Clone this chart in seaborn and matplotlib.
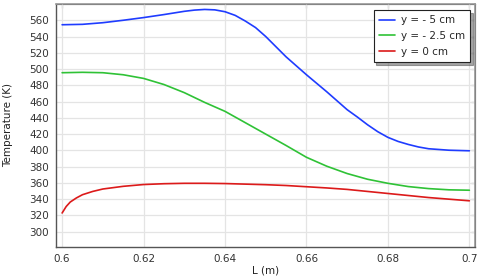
import numpy as np
import pandas as pd
import matplotlib
matplotlib.use("Agg")
import matplotlib.pyplot as plt
from matplotlib.ticker import FuncFormatter
import seaborn as sns

# Values
L_blue = [0.6, 0.605, 0.61, 0.615, 0.62, 0.625, 0.63, 0.6325, 0.635, 0.6375, 0.64,
          0.6425, 0.645, 0.6475, 0.65, 0.655, 0.66, 0.665, 0.67, 0.6725, 0.675,
          0.6775, 0.68, 0.6825, 0.685, 0.6875, 0.69, 0.695, 0.7]
T_blue = [554.5, 555, 557, 560, 563.3, 567, 571, 572.5, 573.3, 572.8, 570.5,
          566, 559, 551, 540, 515, 493, 472, 450, 441, 431.5,
          423, 416, 411, 407.3, 404.2, 402, 400.2, 399.5]

L_green = [0.6, 0.605, 0.61, 0.615, 0.62, 0.625, 0.63, 0.635, 0.64, 0.645, 0.65,
           0.655, 0.66, 0.665, 0.67, 0.675, 0.68, 0.685, 0.69, 0.695, 0.7]
T_green = [495.5, 496, 495.5, 493, 488.5, 481, 471, 459, 448, 434, 420,
           406, 391.5, 380.5, 371.5, 364.5, 359.5, 355.5, 353, 351.5, 351]

L_red = [0.6, 0.601, 0.602, 0.6035, 0.605, 0.6075, 0.61, 0.615, 0.62, 0.625, 0.63,
         0.635, 0.64, 0.645, 0.65, 0.655, 0.66, 0.665, 0.67, 0.675, 0.68, 0.685,
         0.69, 0.695, 0.7]
T_red = [323, 331, 336.5, 341.5, 345.5, 349.5, 352.5, 355.8, 358, 359, 359.5,
         359.5, 359.2, 358.5, 357.8, 356.8, 355.3, 353.8, 352, 349.5, 347, 344.5,
         342, 340, 338]

labels = ["y = - 5 cm", "y = - 2.5 cm", "y = 0 cm"]
colors = ["#1f3cff", "#2fc236", "#dc1a1a"]
x_ticks = [0.6, 0.62, 0.64, 0.66, 0.68, 0.7]
y_ticks = list(range(300, 561, 20))

df = pd.concat([
    pd.DataFrame({"L": L_blue, "T": T_blue, "series": labels[0]}),
    pd.DataFrame({"L": L_green, "T": T_green, "series": labels[1]}),
    pd.DataFrame({"L": L_red, "T": T_red, "series": labels[2]}),
])

sns.set_style("white")
plt.rcParams["font.family"] = ["DejaVu Sans"]

fig = plt.figure(figsize=(4.8, 2.76), dpi=100)
ax = fig.add_axes([0.1167, 0.106, 0.873, 0.8795])

sns.lineplot(data=df, x="L", y="T", hue="series", hue_order=labels,
             palette=colors, linewidth=1.2, sort=False, estimator=None, ax=ax)

ax.set_xlim(0.5985, 0.7014)
ax.set_ylim(281.5, 580)
ax.set_xticks(x_ticks)
ax.set_yticks(y_ticks)
ax.xaxis.set_major_formatter(FuncFormatter(lambda v, p: "%g" % round(v, 3)))
ax.grid(True, color="#e4e4e4", linewidth=0.9)
ax.set_axisbelow(True)

ax.set_xlabel("L (m)", fontsize=7.5, color="#222222", labelpad=1)
ax.set_ylabel("Temperature (K)", fontsize=7.5, color="#222222", labelpad=12)
ax.tick_params(axis="both", labelsize=7.5, colors="#333333", length=3,
               width=0.8, direction="out", pad=2)

for side in ["left", "bottom"]:
    ax.spines[side].set_color("#555555")
    ax.spines[side].set_linewidth(1.0)
for side in ["top", "right"]:
    ax.spines[side].set_color("#999999")
    ax.spines[side].set_linewidth(1.2)

# inward ticks on the top and right edges
top = ax.secondary_xaxis("top")
top.set_xticks(x_ticks)
top.tick_params(direction="in", length=3, width=0.8, colors="#333333", labeltop=False)
right = ax.secondary_yaxis("right")
right.set_yticks(y_ticks)
right.tick_params(direction="in", length=3, width=0.8, colors="#333333", labelright=False)

leg = ax.legend(loc="upper right", bbox_to_anchor=(0.988, 0.975), borderaxespad=0,
                fontsize=7.5, frameon=True, fancybox=False, shadow=True,
                handlelength=1.6, borderpad=0.5, labelspacing=0.55, handletextpad=0.5)
leg.get_frame().set_edgecolor("#222222")
leg.get_frame().set_linewidth(0.8)

fig.savefig("out.png", dpi=100)
